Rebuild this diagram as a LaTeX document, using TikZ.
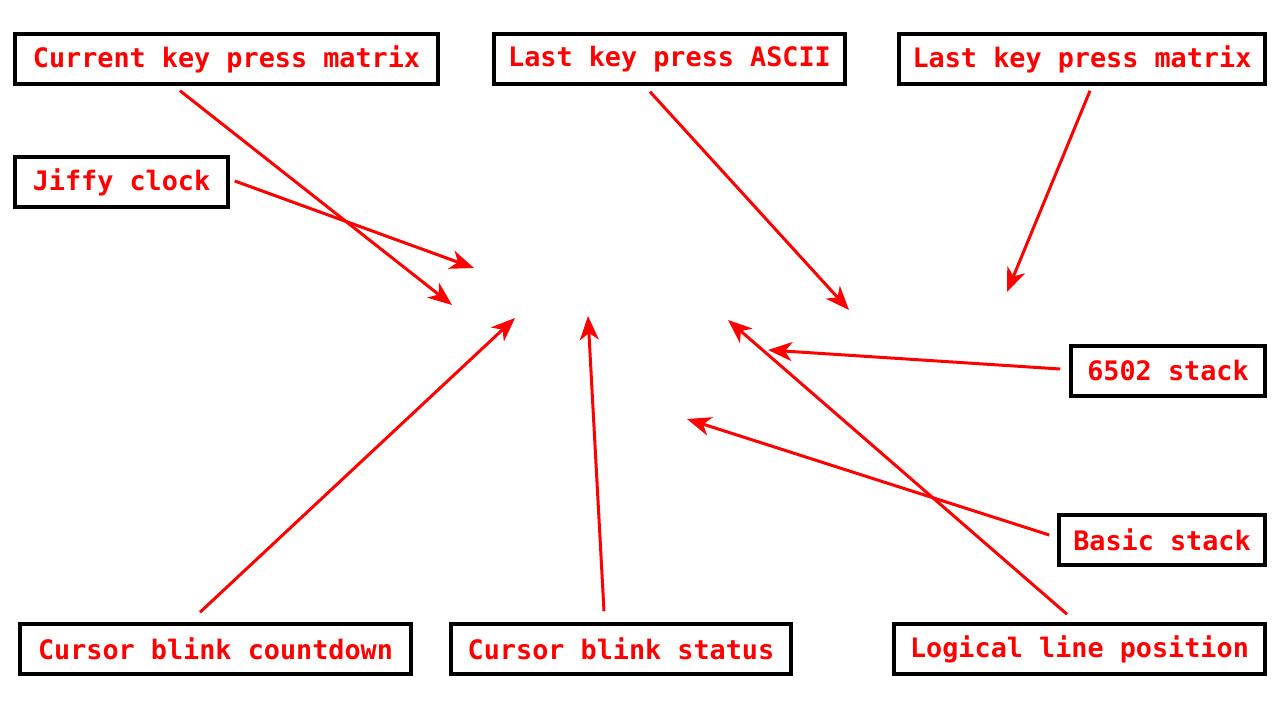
\documentclass[tikz,border=0pt]{standalone}
\usepackage{fontspec}
\setmonofont{DejaVu Sans Mono}
\usetikzlibrary{arrows.meta,calc}

\begin{document}
\begin{tikzpicture}[x=1pt, y=-1pt,
                    line width=3pt,
                    ]
    \tikzstyle{memloc}=[draw=black, line width=3.5pt, inner sep=0pt, minimum height=50pt,
                        text=red, font=\ttfamily\bfseries\fontsize{26.8}{30}\selectfont]
    \tikzstyle{pointer}=[draw=red, line width=3pt, -{Stealth[length=24pt, width=19pt, inset=7pt]}]

    \useasboundingbox (0,0) rectangle (1280,720);

    % boxes
    \node[memloc, minimum width=423pt] (curmat)    at (226.5,59) {Current key press matrix};
    \node[memloc, minimum width=351pt] (ascii)     at (669.5,59) {Last key press ASCII};
    \node[memloc, minimum width=366pt] (lastmat)   at (1082,59)  {Last key press matrix};
    \node[memloc, minimum width=213pt] (jiffy)     at (121.5,182) {Jiffy clock};
    \node[memloc, minimum width=194pt] (stack)     at (1168,371) {6502 stack};
    \node[memloc, minimum width=206pt] (basic)     at (1162,540) {Basic stack};
    \node[memloc, minimum width=391pt] (countdown) at (215.5,649) {Cursor blink countdown};
    \node[memloc, minimum width=340pt] (status)    at (621,649)  {Cursor blink status};
    \node[memloc, minimum width=371pt] (logline)   at (1079.5,649) {Logical line position};

    % where the arrows point
    \coordinate (tcurmat)    at (452,305);
    \coordinate (tjiffy)     at (474,268);
    \coordinate (tascii)     at (849,310);
    \coordinate (tlastmat)   at (1007,292);
    \coordinate (tstack)     at (768,350);
    \coordinate (tbasic)     at (687,419);
    \coordinate (tlogline)   at (728,320);
    \coordinate (tstatus)    at (588,316);
    \coordinate (tcountdown) at (515,318);

    \draw[pointer] ($(curmat.south)+(-46.5,5)$)   -- (tcurmat);
    \draw[pointer] ($(jiffy.east)+(5,-1)$)        -- (tjiffy);
    \draw[pointer] ($(ascii.south)+(-19.5,6)$)    -- (tascii);
    \draw[pointer] ($(lastmat.south)+(8,5)$)      -- (tlastmat);
    \draw[pointer] ($(stack.west)+(-9,-2)$)       -- (tstack);
    \draw[pointer] ($(basic.west)+(-8,-5)$)       -- (tbasic);
    \draw[pointer] ($(logline.north)+(-12.5,-8)$) -- (tlogline);
    \draw[pointer] ($(status.north)+(-17,-11)$)   -- (tstatus);
    \draw[pointer] ($(countdown.north)+(-15.5,-10)$) -- (tcountdown);
\end{tikzpicture}
\end{document}
